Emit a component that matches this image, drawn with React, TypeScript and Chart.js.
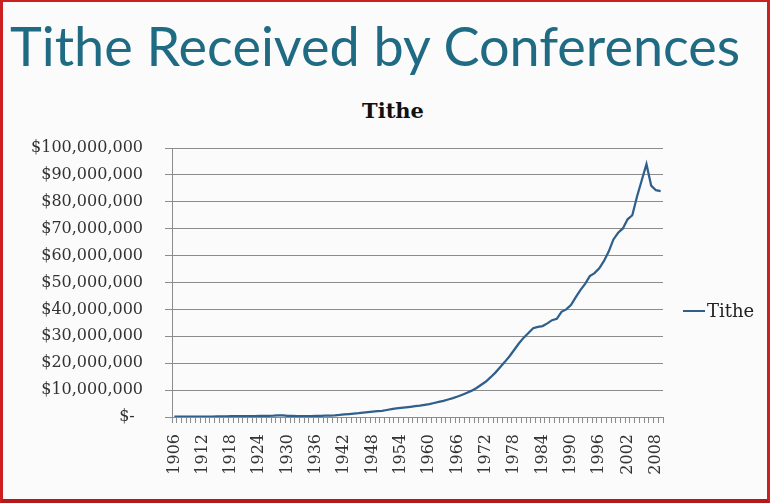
import React, { useEffect, useRef } from "react";
import { Chart, registerables } from "chart.js";

Chart.register(...registerables);

// Categories: fiscal years
const years = [
  "1906", "1907", "1908", "1909", "1910", "1911", "1912", "1913", "1914", "1915",
  "1916", "1917", "1918", "1919", "1920", "1921", "1922", "1923", "1924", "1925",
  "1926", "1927", "1928", "1929", "1930", "1931", "1932", "1933", "1934", "1935",
  "1936", "1937", "1938", "1939", "1940", "1941", "1942", "1943", "1944", "1945",
  "1946", "1947", "1948", "1949", "1950", "1951", "1952", "1953", "1954", "1955",
  "1956", "1957", "1958", "1959", "1960", "1961", "1962", "1963", "1964", "1965",
  "1966", "1967", "1968", "1969", "1970", "1971", "1972", "1973", "1974", "1975",
  "1976", "1977", "1978", "1979", "1980", "1981", "1982", "1983", "1984", "1985",
  "1986", "1987", "1988", "1989", "1990", "1991", "1992", "1993", "1994", "1995",
  "1996", "1997", "1998", "1999", "2000", "2001", "2002", "2003", "2004", "2005",
  "2006", "2007", "2008", "2009",
];

// Tithe received, in millions of dollars
const titheMillions = [
  0.10, 0.11, 0.12, 0.13, 0.14, 0.15, 0.16, 0.17, 0.18, 0.19,
  0.21, 0.24, 0.28, 0.32, 0.36, 0.35, 0.34, 0.36, 0.38, 0.40,
  0.42, 0.48, 0.62, 0.58, 0.45, 0.38, 0.32, 0.30, 0.32, 0.36,
  0.40, 0.44, 0.48, 0.52, 0.60, 0.75, 0.95, 1.10, 1.25, 1.40,
  1.60, 1.80, 2.00, 2.15, 2.30, 2.60, 2.90, 3.20, 3.40, 3.60,
  3.80, 4.00, 4.20, 4.50, 4.80, 5.20, 5.60, 6.00, 6.50, 7.00,
  7.60, 8.30, 9.00, 9.80, 10.80, 12.00, 13.20, 14.80, 16.50, 18.50,
  20.50, 22.60, 25.00, 27.40, 29.50, 31.20, 33.00, 33.50, 33.80, 34.80,
  36.00, 36.50, 39.10, 40.00, 41.60, 44.50, 47.20, 49.50, 52.40, 53.50,
  55.30, 58.00, 61.50, 66.00, 68.50, 70.10, 73.50, 75.00, 82.00, 88.00,
  94.00, 86.00, 84.30, 84.00,
];

// Years that carry a visible tick label
const xLabelYears = [
  "1906", "1912", "1918", "1924", "1930", "1936", "1942", "1948", "1954",
  "1960", "1966", "1972", "1978", "1984", "1990", "1996", "2002", "2008",
];

// Y tick values in millions
const yMin = 0;
const yMax = 100;
const yStep = 10;

const LINE = "#2f5f8c";
const GRID = "#8c8c8c";
const LABEL = "#333333";
const SERIF = "'DejaVu Serif', serif";

function fmtDollars(vMillions: number): string {
  if (vMillions === 0) return "$- \u2009";
  return "$" + Math.round(vMillions * 1000000).toLocaleString("en-US");
}

export default function App() {
  const ref = useRef<HTMLCanvasElement>(null);

  useEffect(() => {
    if (!ref.current) return;
    const chart = new Chart(ref.current, {
      type: "line",
      data: {
        labels: years,
        datasets: [
          {
            label: "Tithe",
            data: titheMillions,
            borderColor: LINE,
            backgroundColor: LINE,
            borderWidth: 2.25,
            pointRadius: 0,
            tension: 0,
            fill: false,
          },
        ],
      },
      options: {
        animation: false,
        responsive: false,
        maintainAspectRatio: false,
        layout: { padding: { left: 26, right: 104, top: 58, bottom: 0 } },
        plugins: {
          legend: { display: false },
          tooltip: { enabled: false },
          title: { display: false },
        },
        scales: {
          x: {
            type: "category",
            offset: true,
            grid: {
              offset: true,
              drawOnChartArea: false,
              drawTicks: true,
              tickLength: 6,
              color: GRID,
            },
            border: { color: GRID },
            afterFit: (scale: any) => {
              scale.height = 78;
            },
            ticks: {
              autoSkip: false,
              minRotation: 90,
              maxRotation: 90,
              padding: 11,
              color: LABEL,
              font: { family: SERIF, size: 16 },
              callback: (_v: any, i: number) =>
                xLabelYears.includes(years[i]) ? years[i] : "",
            },
          },
          y: {
            min: yMin,
            max: yMax,
            afterFit: (scale: any) => {
              scale.width = 143;
            },
            ticks: {
              stepSize: yStep,
              padding: 22,
              color: LABEL,
              font: { family: SERIF, size: 16 },
              callback: (v: any) => fmtDollars(Number(v)),
            },
            grid: { color: GRID, tickLength: 7, lineWidth: 1 },
            border: { color: GRID },
          },
        },
      },
    });
    return () => chart.destroy();
  }, []);

  return (
    <div
      style={{
        position: "absolute",
        left: 0,
        top: 0,
        width: 770,
        height: 503,
        background: "#fbfbfb",
        overflow: "hidden",
      }}
    >
      <div
        style={{
          position: "absolute",
          left: 10,
          top: 19,
          fontFamily: "Lato, 'Open Sans', sans-serif",
          fontSize: 54,
          lineHeight: "54px",
          color: "#1f6b83",
          whiteSpace: "nowrap",
        }}
      >
        Tithe Received by Conferences
      </div>
      <div
        style={{
          position: "absolute",
          left: 393,
          top: 100,
          transform: "translateX(-50%)",
          fontFamily: SERIF,
          fontWeight: "bold",
          fontSize: 21,
          lineHeight: "21px",
          color: "#111",
          whiteSpace: "nowrap",
        }}
      >
        Tithe
      </div>
      <canvas
        ref={ref}
        width={764}
        height={405}
        style={{ position: "absolute", left: 3, top: 90, width: 764, height: 405 }}
      />
      <div
        style={{
          position: "absolute",
          left: 683,
          top: 310,
          width: 22,
          height: 2,
          background: LINE,
        }}
      />
      <div
        style={{
          position: "absolute",
          left: 707,
          top: 301,
          fontFamily: SERIF,
          fontSize: 18,
          lineHeight: "20px",
          color: "#222",
          whiteSpace: "nowrap",
        }}
      >
        Tithe
      </div>
      <div
        style={{
          position: "absolute",
          left: 0,
          top: 0,
          width: 770,
          height: 503,
          boxSizing: "border-box",
          borderTop: "2px solid #cc1f1f",
          borderLeft: "3px solid #cc1f1f",
          borderRight: "3px solid #cc1f1f",
          borderBottom: "4px solid #b81818",
          pointerEvents: "none",
        }}
      />
    </div>
  );
}
